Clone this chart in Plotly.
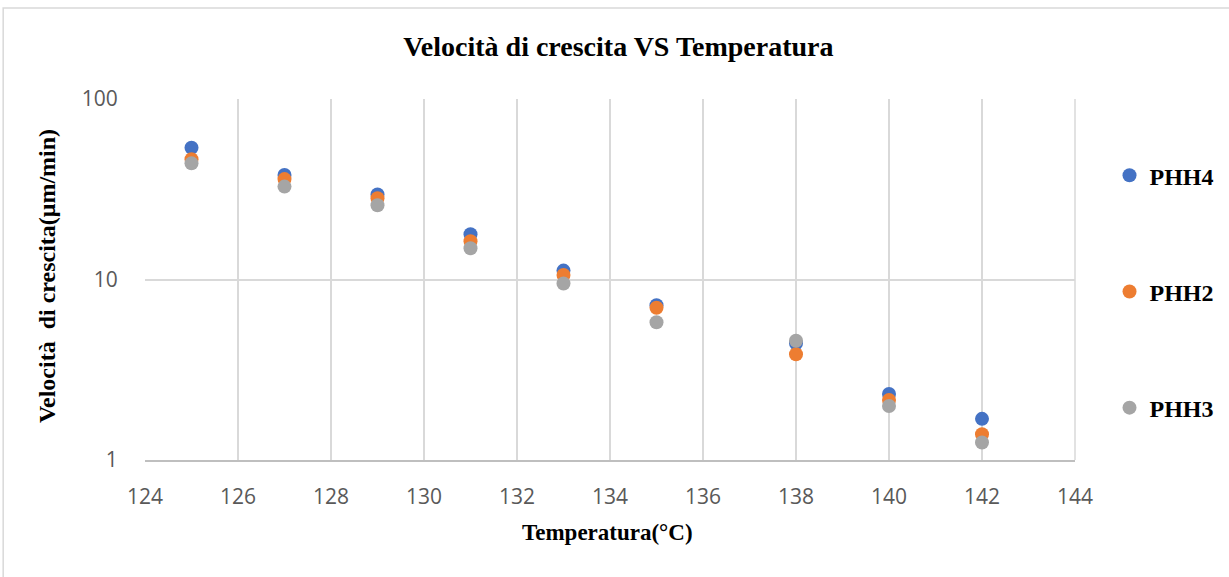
import plotly.graph_objects as go

# Growth rate (µm/min) versus crystallisation temperature (°C)
temperature = [125, 127, 129, 131, 133, 135, 138, 140, 142]
phh4 = [53.7, 37.9, 29.6, 17.8, 11.2, 7.2, 4.43, 2.32, 1.69]
phh2 = [46.4, 36.0, 28.2, 16.3, 10.6, 6.98, 3.85, 2.15, 1.39]
phh3 = [44.0, 32.7, 25.8, 14.9, 9.5, 5.8, 4.58, 1.99, 1.25]

series_names = ["PHH4", "PHH2", "PHH3"]
series_values = [phh4, phh2, phh3]
series_colors = ["#4472C4", "#ED7D31", "#A5A5A5"]

x_ticks = list(range(124, 146, 2))
y_ticks = [1, 10, 100]

serif = "Liberation Serif, Times New Roman, serif"
sans = "Open Sans, Calibri, sans-serif"

fig = go.Figure()
for name, vals, col in zip(series_names, series_values, series_colors):
    fig.add_trace(go.Scatter(
        x=temperature, y=vals, mode="markers", name=f"<b>{name}</b>",
        legendgroup=name,
        marker=dict(size=14, color=col, line=dict(width=0)),
    ))

fig.update_layout(
    width=1229, height=577,
    margin=dict(l=145, r=153, t=99, b=117),
    paper_bgcolor="white", plot_bgcolor="white",
    title=dict(
        text="<b>Velocità di crescita VS Temperatura</b>",
        font=dict(family=serif, size=28, color="black"),
        xref="paper", x=0.509, xanchor="center",
        yref="container", y=1 - 46 / 577, yanchor="middle",
    ),
    legend=dict(
        x=1.036, xanchor="left", y=0.85, yanchor="top",
        font=dict(family=serif, size=24, color="black"),
        tracegroupgap=82, itemwidth=30,
        bgcolor="rgba(0,0,0,0)",
    ),
    showlegend=True,
)

fig.update_xaxes(
    range=[124, 144], tickvals=x_ticks, ticktext=[str(t) for t in x_ticks],
    showgrid=True, gridcolor="#D9D9D9", gridwidth=1.5,
    showline=True, linecolor="#BFBFBF", linewidth=1.5, mirror=False,
    ticks="outside", ticklen=17, tickcolor="rgba(0,0,0,0)",
    tickfont=dict(family=sans, size=21, color="#595959"),
    zeroline=False,
)
fig.update_yaxes(
    type="log", range=[0, 2], tickvals=y_ticks, ticktext=[str(t) for t in y_ticks],
    showgrid=True, gridcolor="#D9D9D9", gridwidth=1.5,
    showline=False,
    ticks="outside", ticklen=22, tickcolor="rgba(0,0,0,0)",
    tickfont=dict(family=sans, size=21, color="#595959"),
    zeroline=False,
)

# right edge of the plot area
fig.add_shape(type="line", xref="paper", yref="paper", x0=1, x1=1, y0=0, y1=1,
              line=dict(color="#D9D9D9", width=1.5))
# chart frame
fig.add_shape(type="rect", xref="paper", yref="paper",
              x0=-0.1525, x1=1.2, y0=-0.5, y1=1.252,
              line=dict(color="#D9D9D9", width=1.5), layer="below")

fig.add_annotation(
    text="<b>Temperatura(°C)</b>", xref="paper", yref="paper",
    x=(608 - 145) / 931, y=(460 - 532) / 361, xanchor="center", yanchor="middle",
    showarrow=False, font=dict(family=serif, size=23, color="black"),
)
fig.add_annotation(
    text="<b>Velocità\u00a0 di crescita(μm/min)</b>", xref="paper", yref="paper",
    x=(47 - 145) / 931, y=(460 - 276) / 361, xanchor="center", yanchor="middle",
    textangle=-90, showarrow=False,
    font=dict(family=serif, size=24, color="black"),
)

fig.write_html("out.html")
